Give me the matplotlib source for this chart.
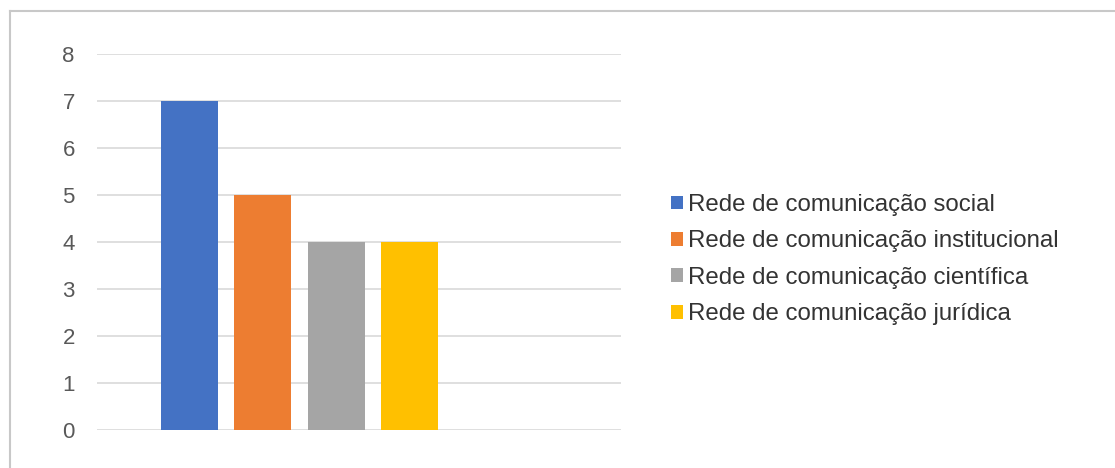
import matplotlib
matplotlib.use("Agg")
import matplotlib.pyplot as plt
from matplotlib.lines import Line2D

plt.rcParams['font.family'] = ['Liberation Sans', 'DejaVu Sans']

# one category, four series
series = ['Rede de comunicação social', 'Rede de comunicação institucional',
          'Rede de comunicação científica', 'Rede de comunicação jurídica']
values = [7, 5, 4, 4]
colors = ['#4472C4', '#ED7D31', '#A5A5A5', '#FFC000']
yticks = [0, 1, 2, 3, 4, 5, 6, 7, 8]

W, H = 1115, 468
fig = plt.figure(figsize=(W / 100, H / 100), dpi=100)
ax = fig.add_axes([97 / W, (H - 430) / H, (621 - 97) / W, (430 - 54) / H])

for i, (name, v, c) in enumerate(zip(series, values, colors)):
    ax.bar(i, v, width=0.776, color=c, label=name, zorder=3)

ax.set_xlim(-1.258, 5.871)
ax.set_ylim(0, 8)
ax.set_yticks(yticks)
ax.set_xticks([])
ax.grid(axis='y', color='#d9d9d9', linewidth=1.2, zorder=0)
for s in ax.spines.values():
    s.set_visible(False)
ax.tick_params(axis='y', length=0, pad=16, labelsize=16, labelcolor='#595959')

leg = ax.legend(loc='upper left', bbox_to_anchor=(671 / W, 1 - 194 / H),
                bbox_transform=fig.transFigure, frameon=False, fontsize=17.3,
                handlelength=0.5, handleheight=0.5, handletextpad=0.22,
                labelspacing=0.6, borderpad=0, borderaxespad=0)
for t in leg.get_texts():
    t.set_color('#333333')

# chart-area border (top and left visible)
fig.add_artist(Line2D([9.5 / W, 1], [1 - 11 / H, 1 - 11 / H], color='#c8c8c8', linewidth=1.5))
fig.add_artist(Line2D([9.5 / W, 9.5 / W], [0, 1 - 11 / H], color='#c8c8c8', linewidth=1.5))

fig.savefig('out.png', dpi=100)
